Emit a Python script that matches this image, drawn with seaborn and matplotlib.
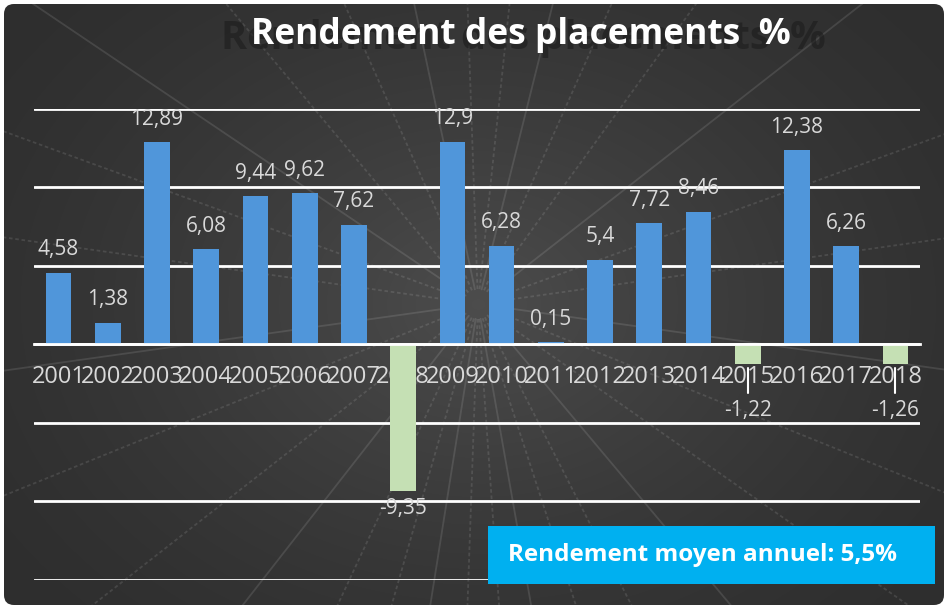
import numpy as np
import pandas as pd
import matplotlib
matplotlib.use('Agg')
import matplotlib.pyplot as plt
import seaborn as sns
from matplotlib.patches import FancyBboxPatch, Rectangle

# Données
annees = [str(a) for a in range(2001, 2019)]
rendements = [4.58, 1.38, 12.89, 6.08, 9.44, 9.62, 7.62, -9.35, 12.9,
              6.28, 0.15, 5.4, 7.72, 8.46, -1.22, 12.38, 6.26, -1.26]
titre = 'Rendement des placements  %'
encadre = 'Rendement moyen annuel: 5,5%'

sns.set_style('white')
plt.rcParams['font.family'] = ['Open Sans', 'DejaVu Sans']

W, H = 948, 609
fig = plt.figure(figsize=(W / 100, H / 100), dpi=100)
fig.patch.set_facecolor('white')

# fond sombre avec dégradé radial et rayons
bg = fig.add_axes([0, 0, 1, 1], zorder=0)
bg.set_xlim(0, W)
bg.set_ylim(H, 0)
bg.axis('off')
yy, xx = np.mgrid[0:H, 0:W]
cx, cy = 478, 304
r = np.hypot(xx - cx, (yy - cy) * 1.3) / 620
grad = np.clip(1 - r, 0, 1)
base = 0.18 + 0.12 * grad ** 1.5
img = np.dstack([base, base, base])
frame = FancyBboxPatch((4, 4), W - 8, H - 8, boxstyle='round,pad=0,rounding_size=10',
                       transform=bg.transData, facecolor='none', edgecolor='none')
bg.add_patch(frame)
im = bg.imshow(img, extent=(0, W, H, 0), aspect='auto')
im.set_clip_path(frame)
angles = np.deg2rad([8, 22, 35, 50, 63, 72, 80, 86, 92, 99, 106, 115, 128, 142, 158,
                     172, 188, 200, 214, 230, 246, 258, 268, 276, 284, 294, 306, 322, 340, 352])
for k, a in enumerate(angles):
    ls = (0, (2, 1.5)) if k % 3 else '-'
    ln, = bg.plot([cx + 15 * np.cos(a), cx + 900 * np.cos(a)],
                  [cy + 15 * np.sin(a), cy + 900 * np.sin(a)],
                  color='white', alpha=0.11, lw=1.3, ls=ls)
    ln.set_clip_path(frame)

# graphique principal
df = pd.DataFrame({'annee': annees, 'rendement': rendements})
df['signe'] = np.where(df['rendement'] >= 0, 'pos', 'neg')

ax = fig.add_axes([34 / W, 1 - 580 / H, 886 / W, 471 / H], zorder=2)
ax.set_facecolor('none')
sns.barplot(data=df, x='annee', y='rendement', hue='signe',
            palette={'pos': '#5096da', 'neg': '#c5e0b4'}, saturation=1,
            width=0.52, dodge=False, legend=False, ax=ax, zorder=3,
            edgecolor='none', linewidth=0)
ax.set_xlim(-0.5, 17.5)
ax.set_ylim(-15, 15)
ax.set_yticks([-15, -10, -5, 0, 5, 10, 15])
ax.set_yticklabels([])
ax.tick_params(axis='y', length=0)
ax.yaxis.grid(True, color='white', lw=2, zorder=1)
ax.set_axisbelow(True)
for s in ['left', 'right', 'top']:
    ax.spines[s].set_visible(False)
ax.spines['bottom'].set_position(('data', 0))
ax.spines['bottom'].set_color('white')
ax.spines['bottom'].set_linewidth(2)
ax.spines['bottom'].set_zorder(4)
ax.set_xticks(np.arange(-0.5, 18, 1), minor=True)
ax.tick_params(axis='x', which='major', length=0, pad=15, labelsize=17, labelcolor='#d9d9d9')
ax.tick_params(axis='x', which='minor', length=7, width=2, color='white', direction='out')
ax.set_xlabel('')
ax.set_ylabel('')

# étiquettes de données
for i, v in enumerate(rendements):
    lab = str(v).replace('.', ',')
    if v >= 0:
        ax.annotate(lab, (i, v), xytext=(0, 9), textcoords='offset points',
                    ha='center', va='bottom', fontsize=15, color='#d9d9d9', zorder=5)
    elif v < -3:
        ax.annotate(lab, (i, v), xytext=(0, -5), textcoords='offset points',
                    ha='center', va='top', fontsize=15, color='#d9d9d9', zorder=5)
    else:
        ax.plot([i, i], [v - 0.25, -3.1], color='white', lw=1.5, zorder=5)
        ax.text(i, -4.2, lab, ha='center', va='center', fontsize=15,
                color='#d9d9d9', zorder=5)

# titre avec ombre
fig.text(523 / W, 1 - 38 / H, titre, ha='center', va='center', fontsize=28.5,
         fontweight='bold', color='#1c1c1c', alpha=0.6, zorder=3)
fig.text(521 / W, 1 - 35 / H, titre, ha='center', va='center', fontsize=25.5,
         fontweight='bold', color='white', zorder=4)

# encadré
fig.add_artist(Rectangle((488 / W, 1 - 584 / H), 447 / W, 58 / H,
                         transform=fig.transFigure, facecolor='#00b0f0',
                         edgecolor='none', zorder=5))
fig.text(508 / W, 1 - 555 / H, encadre, ha='left', va='center', fontsize=17.5,
         fontweight='bold', color='white', zorder=6)

fig.savefig('out.png', dpi=100, facecolor=fig.get_facecolor())
